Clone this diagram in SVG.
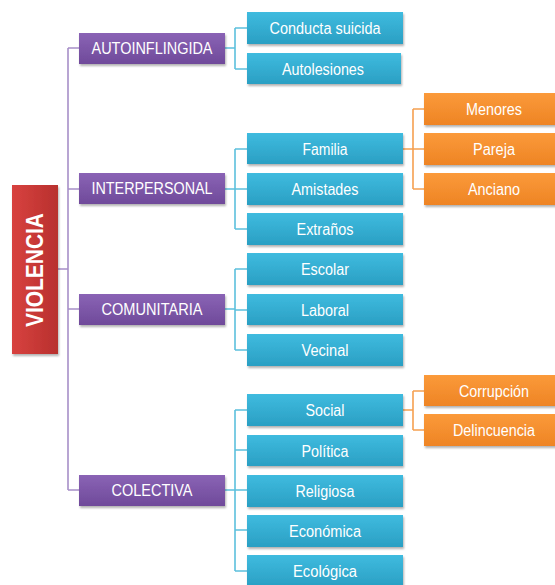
<svg xmlns="http://www.w3.org/2000/svg" width="555" height="585" viewBox="0 0 555 585">
<defs>
<linearGradient id="gp" x1="0" y1="0" x2="0" y2="1"><stop offset="0" stop-color="#8a63b5"/><stop offset="1" stop-color="#6f4a9a"/></linearGradient>
<linearGradient id="gb" x1="0" y1="0" x2="0" y2="1"><stop offset="0" stop-color="#3fbbdf"/><stop offset="1" stop-color="#2a9fc3"/></linearGradient>
<linearGradient id="go" x1="0" y1="0" x2="0" y2="1"><stop offset="0" stop-color="#fb9a3a"/><stop offset="1" stop-color="#ee8424"/></linearGradient>
<linearGradient id="gr" x1="0" y1="0" x2="1" y2="0"><stop offset="0" stop-color="#d8423f"/><stop offset="1" stop-color="#b8302e"/></linearGradient>
<filter id="sh" x="-10%" y="-20%" width="120%" height="150%"><feDropShadow dx="1" dy="2" stdDeviation="1.2" flood-color="#000" flood-opacity="0.3"/></filter>
</defs>
<style>
.p{fill:url(#gp);filter:url(#sh)}
.b{fill:url(#gb);filter:url(#sh)}
.o{fill:url(#go);filter:url(#sh)}
.r{fill:url(#gr);filter:url(#sh)}
text{font-family:"Liberation Sans",Arial,sans-serif;fill:#fff;text-anchor:middle}
.t{font-size:16px}
.tp{font-size:16px}
.lp{stroke:#a78fc8;stroke-width:1.6;fill:none}
.lb{stroke:#5cc0dd;stroke-width:1.6;fill:none}
.lo{stroke:#f5a050;stroke-width:1.6;fill:none}
</style>
<rect width="555" height="585" fill="#fff"/>
<g id="connectors">
<path class="lp" d="M58 269H68M68 48V490M68 48H79M68 189H79M68 309H79M68 490H79"/>
<path class="lb" d="M225 48H235M235 28V69M235 28H247M235 69H247"/>
<path class="lb" d="M225 189H235M235 149V229M235 149H247M235 189H247M235 229H247"/>
<path class="lb" d="M225 309H235M235 269V350M235 269H247M235 310H247M235 350H247"/>
<path class="lb" d="M225 490H235M235 410V571M235 410H247M235 450H247M235 490H247M235 530H247M235 571H247"/>
<path class="lo" d="M403 149H413M413 109V189M413 109H424M413 149H424M413 189H424"/>
<path class="lo" d="M403 410H413M413 391V430M413 391H424M413 430H424"/>
</g>
<g id="violencia"><rect class="r" x="12" y="185" width="46" height="169"/><text transform="translate(43 270) rotate(-90)" font-size="24" font-weight="bold" textLength="114" lengthAdjust="spacingAndGlyphs">VIOLENCIA</text></g>
<g id="autoinflingida"><rect class="p" x="79" y="33" width="146" height="31"/><text class="tp" x="152" y="54" textLength="121" lengthAdjust="spacingAndGlyphs">AUTOINFLINGIDA</text></g>
<g id="interpersonal"><rect class="p" x="79" y="173" width="146" height="31"/><text class="tp" x="152" y="194" textLength="121" lengthAdjust="spacingAndGlyphs">INTERPERSONAL</text></g>
<g id="comunitaria"><rect class="p" x="79" y="294" width="146" height="31"/><text class="tp" x="152" y="315" textLength="101" lengthAdjust="spacingAndGlyphs">COMUNITARIA</text></g>
<g id="colectiva"><rect class="p" x="79" y="475" width="146" height="31"/><text class="tp" x="152" y="496" textLength="81" lengthAdjust="spacingAndGlyphs">COLECTIVA</text></g>
<g id="conducta"><rect class="b" x="247" y="12" width="156" height="32"/><text class="t" x="325" y="34" textLength="111" lengthAdjust="spacingAndGlyphs">Conducta suicida</text></g>
<g id="autolesiones"><rect class="b" x="247" y="53" width="154" height="31"/><text class="t" x="323" y="75" textLength="82" lengthAdjust="spacingAndGlyphs">Autolesiones</text></g>
<g id="familia"><rect class="b" x="247" y="133" width="156" height="31"/><text class="t" x="325" y="155" textLength="45" lengthAdjust="spacingAndGlyphs">Familia</text></g>
<g id="amistades"><rect class="b" x="247" y="173" width="156" height="32"/><text class="t" x="325" y="195" textLength="67" lengthAdjust="spacingAndGlyphs">Amistades</text></g>
<g id="extranos"><rect class="b" x="247" y="213" width="156" height="32"/><text class="t" x="325" y="235" textLength="57" lengthAdjust="spacingAndGlyphs">Extraños</text></g>
<g id="escolar"><rect class="b" x="247" y="253" width="156" height="32"/><text class="t" x="325" y="275" textLength="48" lengthAdjust="spacingAndGlyphs">Escolar</text></g>
<g id="laboral"><rect class="b" x="247" y="294" width="156" height="31"/><text class="t" x="325" y="316" textLength="48" lengthAdjust="spacingAndGlyphs">Laboral</text></g>
<g id="vecinal"><rect class="b" x="247" y="334" width="156" height="32"/><text class="t" x="325" y="356" textLength="47" lengthAdjust="spacingAndGlyphs">Vecinal</text></g>
<g id="social"><rect class="b" x="247" y="394" width="156" height="32"/><text class="t" x="325" y="416" textLength="39" lengthAdjust="spacingAndGlyphs">Social</text></g>
<g id="politica"><rect class="b" x="247" y="435" width="156" height="31"/><text class="t" x="325" y="457" textLength="47" lengthAdjust="spacingAndGlyphs">Política</text></g>
<g id="religiosa"><rect class="b" x="247" y="475" width="156" height="32"/><text class="t" x="325" y="497" textLength="59" lengthAdjust="spacingAndGlyphs">Religiosa</text></g>
<g id="economica"><rect class="b" x="247" y="515" width="156" height="32"/><text class="t" x="325" y="537" textLength="72" lengthAdjust="spacingAndGlyphs">Económica</text></g>
<g id="ecologica"><rect class="b" x="247" y="555" width="156" height="32"/><text class="t" x="325" y="577" textLength="64" lengthAdjust="spacingAndGlyphs">Ecológica</text></g>
<g id="menores"><rect class="o" x="424" y="93" width="134" height="32"/><text class="t" x="494" y="115" textLength="56" lengthAdjust="spacingAndGlyphs">Menores</text></g>
<g id="pareja"><rect class="o" x="424" y="133" width="134" height="32"/><text class="t" x="494" y="155" textLength="42" lengthAdjust="spacingAndGlyphs">Pareja</text></g>
<g id="anciano"><rect class="o" x="424" y="173" width="134" height="32"/><text class="t" x="494" y="195" textLength="52" lengthAdjust="spacingAndGlyphs">Anciano</text></g>
<g id="corrupcion"><rect class="o" x="424" y="375" width="134" height="31"/><text class="t" x="494" y="397" textLength="70" lengthAdjust="spacingAndGlyphs">Corrupción</text></g>
<g id="delincuencia"><rect class="o" x="424" y="414" width="134" height="32"/><text class="t" x="494" y="436" textLength="82" lengthAdjust="spacingAndGlyphs">Delincuencia</text></g>
</svg>
